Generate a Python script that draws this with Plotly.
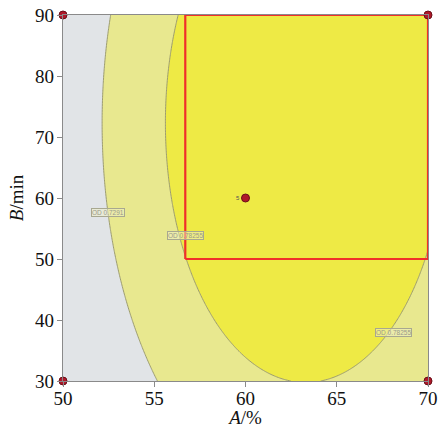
import numpy as np
import plotly.graph_objects as go

# ---- data ----
# quadratic response-surface model for OD (actual factor units)
coef_intercept = -2.5851
coef_A = 0.10352
coef_B = 0.003862
coef_AA = -8.177e-4
coef_BB = -2.671e-5

level_low = 0.7291
level_high = 0.78255

A_range = [50, 70]
B_range = [30, 90]
x_ticks = [50, 55, 60, 65, 70]
y_ticks = [30, 40, 50, 60, 70, 80, 90]

design_A = [50, 50, 70, 70, 60]
design_B = [30, 90, 30, 90, 60]
center_label = "5"

rect_A = [56.7, 70]
rect_B = [50, 90]

label_texts = ["OD 0.7291", "OD 0.78255", "OD 0.78255"]
label_A = [52.45, 56.7, 68.1]
label_B = [57.7, 53.8, 37.9]

# ---- surface ----
A = np.linspace(A_range[0], A_range[1], 201)
B = np.linspace(B_range[0], B_range[1], 241)
AA, BB = np.meshgrid(A, B)
Z = coef_intercept + coef_A * AA + coef_B * BB + coef_AA * AA ** 2 + coef_BB * BB ** 2

s = level_high - level_low
zmin = level_low - 1.5 * s
zmax = level_high + 1.5 * s
c_gray = "#e1e4e7"
c_light = "#e8e88f"
c_bright = "#eeea45"
cscale = [[0, c_gray], [0.3, c_gray], [0.3, c_light], [0.55, c_light], [0.55, c_bright], [1, c_bright]]

SERIF = "Liberation Serif"

fig = go.Figure()
fig.add_trace(go.Contour(
    x=A, y=B, z=Z,
    zmin=zmin, zmax=zmax, zauto=False,
    colorscale=cscale, showscale=False,
    contours=dict(start=level_low, end=level_high, size=s, coloring="fill"),
    line=dict(color="#9c9c70", width=1),
    hoverinfo="skip",
))

# red rectangle
fig.add_trace(go.Scatter(
    x=[rect_A[0], rect_A[1], rect_A[1], rect_A[0], rect_A[0]],
    y=[rect_B[0], rect_B[0], rect_B[1], rect_B[1], rect_B[0]],
    mode="lines", line=dict(color="#f0302a", width=2.2),
    hoverinfo="skip", cliponaxis=False,
))

# design points
fig.add_trace(go.Scatter(
    x=design_A, y=design_B, mode="markers",
    marker=dict(color="#b0182a", size=8, line=dict(color="#6a1018", width=1)),
    cliponaxis=False, hoverinfo="skip",
))

annotations = []
for t, a, b in zip(label_texts, label_A, label_B):
    annotations.append(dict(
        x=a, y=b, text=t, showarrow=False,
        font=dict(size=6.5, color="#9a9a8a", family="Liberation Sans"),
        bordercolor="#a8a890", borderwidth=1, borderpad=0,
        bgcolor="rgba(240,240,200,0.5)",
    ))
annotations.append(dict(
    x=design_A[4], y=design_B[4], text=center_label, showarrow=False,
    xshift=-8, font=dict(size=6, color="#555555", family="Liberation Sans"),
))

axis_common = dict(
    showgrid=False, zeroline=False, showline=True, linecolor="#8a8a8a", linewidth=1.2,
    mirror=True, ticks="outside", ticklen=5, tickcolor="#8a8a8a", tickwidth=1,
    automargin=False,
    tickfont=dict(family=SERIF, size=19, color="#111111"),
)

fig.update_layout(
    template="none",
    width=443, height=428,
    margin=dict(l=63, r=15, t=15, b=47),
    paper_bgcolor="white", plot_bgcolor="white",
    showlegend=False,
    annotations=annotations,
    xaxis=dict(range=A_range, tickvals=x_ticks, **axis_common, ticklabelstandoff=-5,
               title=dict(text="<i>A</i>/%", standoff=0,
                          font=dict(family=SERIF, size=19, color="#111111"))),
    yaxis=dict(range=B_range, tickvals=y_ticks, **axis_common, ticklabelstandoff=-1,
               title=dict(text="<i>B</i>/min", standoff=6,
                          font=dict(family=SERIF, size=19, color="#111111"))),
)

fig.write_html("out.html")
